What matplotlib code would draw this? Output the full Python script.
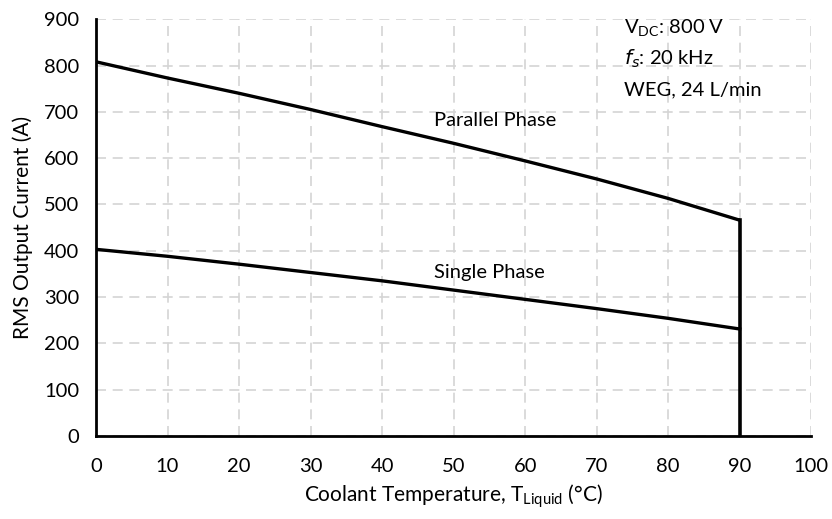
import matplotlib
matplotlib.use("Agg")
import matplotlib.pyplot as plt

plt.rcParams['font.family'] = ['Lato', 'DejaVu Sans']

# Coolant temperature (C) and RMS output current (A)
temp = [0, 10, 20, 30, 40, 50, 60, 70, 80, 90]
parallel_phase = [808, 773, 740, 705, 668, 632, 594, 555, 513, 466]
single_phase = [403, 388, 371, 353, 335, 315, 295, 275, 254, 231]

x_ticks = [0, 10, 20, 30, 40, 50, 60, 70, 80, 90, 100]
y_ticks = [0, 100, 200, 300, 400, 500, 600, 700, 800, 900]

fig = plt.figure(figsize=(8.32, 5.19), dpi=100)
ax = fig.add_axes([0.1154, 0.16, 0.8596, 0.803])

ax.plot(temp, parallel_phase, color='black', lw=2.4, solid_capstyle='butt')
ax.plot(temp, single_phase, color='black', lw=2.4)
# derating limit at max coolant temperature
ax.plot([temp[-1], temp[-1]], [0, parallel_phase[-1]], color='black', lw=2.6)

ax.set_xlim(0, 100)
ax.set_ylim(0, 900)
ax.set_xticks(x_ticks)
ax.set_yticks(y_ticks)
ax.tick_params(length=0, labelsize=14.5)
ax.tick_params(axis='x', pad=16)
ax.tick_params(axis='y', pad=12)
ax.grid(True, color='#d4d4d4', ls=(0, (6, 4)), lw=1.2)
ax.set_axisbelow(True)
for s in ['top', 'right']:
    ax.spines[s].set_visible(False)
ax.spines['left'].set_linewidth(2)
ax.spines['bottom'].set_linewidth(2)

ax.set_xlabel(r'Coolant Temperature, T$_{\mathregular{Liquid}}$ (°C)', fontsize=15, labelpad=5)
ax.set_ylabel('RMS Output Current (A)', fontsize=15, labelpad=8)

ax.text(47.2, 682, 'Parallel Phase', fontsize=14.5, va='center')
ax.text(47.2, 354, 'Single Phase', fontsize=14.5, va='center')

ax.text(73.8, 880, r'V$_{\mathregular{DC}}$: 800 V', fontsize=14.5, va='center')
ax.text(73.8, 815, r'$f_s$: 20 kHz', fontsize=14.5, va='center')
ax.text(73.8, 748, 'WEG, 24 L/min', fontsize=14.5, va='center')

fig.savefig('out.png', dpi=100)
